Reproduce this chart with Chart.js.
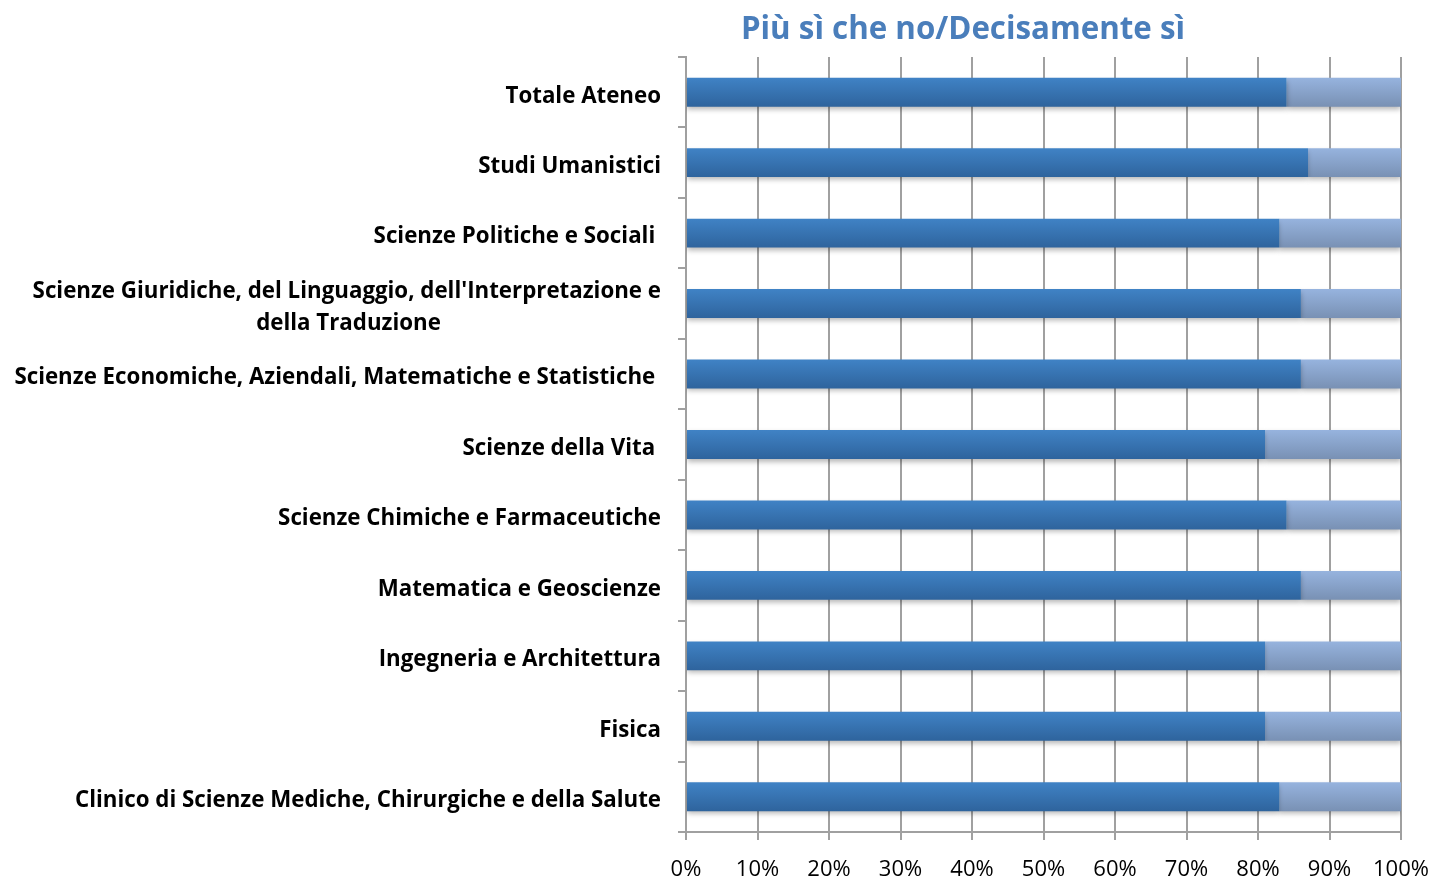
<!DOCTYPE html>
<html>
<head>
<meta charset="utf-8">
<script src="https://cdn.jsdelivr.net/npm/chart.js@4/dist/chart.umd.min.js"></script>
<style>
  html, body { margin: 0; padding: 0; background: #fff; }
  #wrap { width: 1434px; height: 880px; }
</style>
</head>
<body>
<div id="wrap"><canvas id="grafico"></canvas></div>
<script>
// dati (percentuali)
const categorie = [
    'Totale Ateneo',
    'Studi Umanistici',
    'Scienze Politiche e Sociali ',
    ["Scienze Giuridiche, del Linguaggio, dell'Interpretazione e", 'della Traduzione' + ' '.repeat(38)],
    'Scienze Economiche, Aziendali, Matematiche e Statistiche ',
    'Scienze della Vita ',
    'Scienze Chimiche e Farmaceutiche',
    'Matematica e Geoscienze',
    'Ingegneria e Architettura',
    'Fisica',
    'Clinico di Scienze Mediche, Chirurgiche e della Salute'
];
const piuSiCheNo = [84, 87, 83, 86, 86, 81, 84, 86, 81, 81, 83];
const decisamenteSi = [16, 13, 17, 14, 14, 19, 16, 14, 19, 19, 17];
const tickX = [0, 10, 20, 30, 40, 50, 60, 70, 80, 90, 100];

function sfumatura(context, alto, basso, piatto) {
    const chart = context.chart;
    const y = chart.scales && chart.scales.y;
    if (!chart.chartArea || !y) return piatto;
    const centro = y.getPixelForValue(context.dataIndex);
    const g = chart.ctx.createLinearGradient(0, centro - 15, 0, centro + 15);
    g.addColorStop(0, alto);
    g.addColorStop(1, basso);
    return g;
}

const ombra = {
    id: 'ombra',
    beforeDatasetsDraw(chart) {
        const ctx = chart.ctx;
        ctx.save();
        ctx.shadowColor = 'rgba(0,0,0,0.28)';
        ctx.shadowBlur = 5;
        ctx.shadowOffsetY = 3;
    },
    afterDatasetsDraw(chart) {
        chart.ctx.restore();
    }
};

const spostaTitolo = {
    id: 'spostaTitolo',
    afterLayout(chart) {
        const t = chart.titleBlock;
        if (t) {
            t.left = 2 * 963 - chart.width;
            t.right = chart.width;
        }
    }
};

const ctx = document.getElementById('grafico').getContext('2d');
new Chart(ctx, {
    type: 'bar',
    data: {
        labels: categorie,
        datasets: [{
            label: 'Più sì che no',
            data: piuSiCheNo,
            backgroundColor: c => sfumatura(c, '#4083c6', '#2e639c', '#3771ae'),
            barPercentage: 0.41,
            categoryPercentage: 1
        }, {
            label: 'Decisamente sì',
            data: decisamenteSi,
            backgroundColor: c => sfumatura(c, '#97b4df', '#7890b3', '#87a2ca'),
            barPercentage: 0.41,
            categoryPercentage: 1
        }]
    },
    options: {
        indexAxis: 'y',
        responsive: true,
        maintainAspectRatio: false,
        animation: false,
        layout: { padding: { left: 6, right: 33, top: 0, bottom: 0 } },
        plugins: {
            legend: { display: false },
            tooltip: { enabled: false },
            title: {
                display: true,
                text: 'Più sì che no/Decisamente sì',
                color: '#4a7ebb',
                font: { family: 'Open Sans', size: 31.3, weight: 'bold', lineHeight: 1.2 },
                padding: { top: 11.2, bottom: 8.2 }
            }
        },
        scales: {
            x: {
                stacked: true,
                min: 0,
                max: 100,
                afterBuildTicks: s => { s.ticks = tickX.map(v => ({ value: v })); },
                afterFit: s => { s.height = 48; s.paddingLeft = 0; s.paddingRight = 0; },
                grid: { color: '#a0a0a0', lineWidth: 2, tickLength: 8 },
                border: { color: '#a0a0a0', width: 2 },
                ticks: {
                    color: '#000',
                    padding: 17,
                    maxRotation: 0,
                    font: { family: 'Open Sans', size: 22 },
                    callback: v => v + '%'
                }
            },
            y: {
                stacked: true,
                afterFit: s => { s.width = 680; },
                grid: { drawOnChartArea: false, offset: true, color: '#a0a0a0', lineWidth: 2, tickLength: 8 },
                border: { color: '#a0a0a0', width: 2 },
                ticks: {
                    color: '#000',
                    autoSkip: false,
                    padding: 17,
                    labelOffset: 4,
                    font: { family: 'Open Sans', size: 22.3, weight: 'bold', lineHeight: 1.45 }
                }
            }
        }
    },
    plugins: [ombra, spostaTitolo]
});
</script>
</body>
</html>
